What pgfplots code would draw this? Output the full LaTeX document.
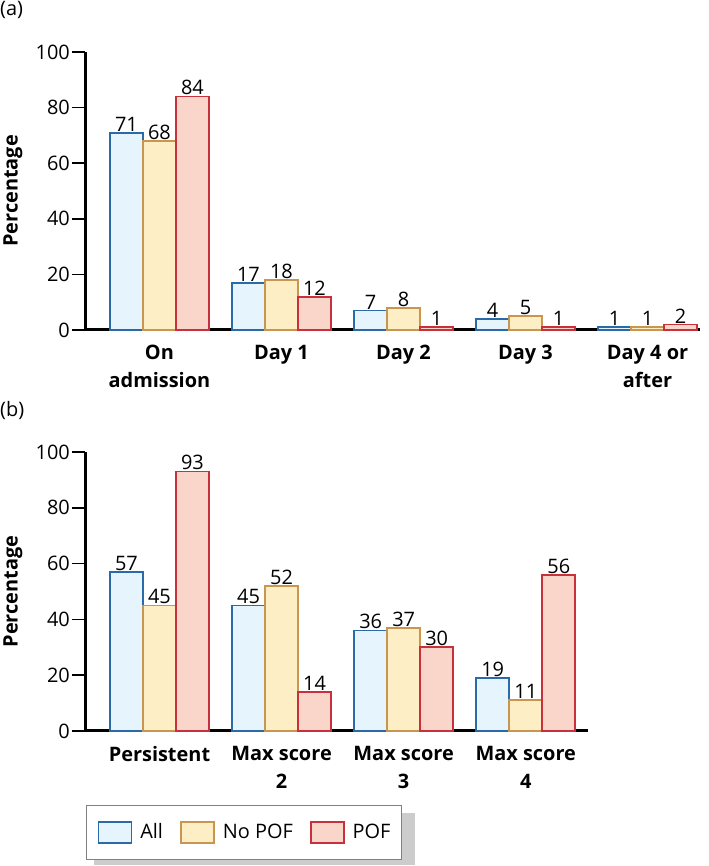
\documentclass[border=0pt]{standalone}
\usepackage{fontspec}
\setmainfont{Open Sans}
\usepackage{pgfplots}
\pgfplotsset{compat=1.18}
\definecolor{cAllD}{HTML}{2A6AA8}
\definecolor{cAllF}{HTML}{E6F4FD}
\definecolor{cNoD}{HTML}{C9964F}
\definecolor{cNoF}{HTML}{FDEEC6}
\definecolor{cPD}{HTML}{C8303C}
\definecolor{cPF}{HTML}{FAD5CA}
\newcommand{\fs}{\fontsize{20}{28}\selectfont}
\pgfplotsset{
  mybars/.style={
    scale only axis,
    axis lines*=left,
    axis line style={line width=3bp, black},
    ymin=0, ymax=100,
    ytick={0,20,40,60,80,100},
    tick align=outside,
    major tick length=13bp,
    ytick style={line width=1.5bp, black},
    xtick style={draw=none},
    xtick=data,
    ybar=0pt,
    bar width=33bp,
    clip=false,
    /pgf/number format/assume math mode=true,
    yticklabel style={font=\fs, inner sep=2bp},
    xticklabel style={font=\fs\bfseries, align=center, inner sep=2bp},
    every axis y label/.style={at={(axis description cs:0,0.5)}, xshift=-72bp, rotate=90, anchor=center, font=\fs\bfseries},
    ylabel={Percentage},
    nodes near coords,
    every node near coord/.append style={font=\fs, black, inner sep=0pt, anchor=south, yshift=0.5bp},
    legend image code/.code={\draw[##1] (0bp,-10.5bp) rectangle (33bp,10.5bp);},
  },
  sAll/.style={draw=cAllD, fill=cAllF, line width=1.8bp},
  sNo/.style={draw=cNoD, fill=cNoF, line width=1.8bp},
  sP/.style={draw=cPD, fill=cPF, line width=1.8bp},
}
\begin{document}
\begin{tikzpicture}[x=1bp,y=1bp]
\useasboundingbox (0,0) rectangle (709,866);
\node[anchor=base west, inner sep=0pt, font=\fs] at (0,850) {(a)};
\node[anchor=base west, inner sep=0pt, font=\fs] at (0,449) {(b)};
\fill[gray!40] (94,1) rectangle (415,53);
\begin{axis}[mybars,
  at={(85bp,536bp)}, anchor=south west,
  width=615bp, height=278bp,
  xmin=-0.61, xmax=4.43,
  xticklabels={On\\admission, Day 1, Day 2, Day 3, Day 4 or\\after},
]
\addplot[sAll] coordinates {(0,71) (1,17) (2,7) (3,4) (4,1)};
\addplot[sNo] coordinates {(0,68) (1,18) (2,8) (3,5) (4,1)};
\addplot[sP] coordinates {(0,84) (1,12) (2,1) (3,1) (4,2)};
\end{axis}
\begin{axis}[mybars,
  at={(85bp,135bp)}, anchor=south west,
  width=503bp, height=279bp,
  xmin=-0.61, xmax=3.51,
  xticklabels={Persistent, Max score\\2, Max score\\3, Max score\\4},
  legend columns=3,
  legend cell align=left,
  legend style={at={(axis description cs:0.002,-0.265)}, anchor=north west,
    draw=gray, line width=1bp, fill=white, font=\fs,
    inner xsep=11bp, inner ysep=15.5bp,
    nodes={inner xsep=0pt, inner ysep=0pt, text height=17bp, text depth=4bp},
    /tikz/every odd column/.style={column sep=8bp},
    /tikz/every even column/.style={column sep=17bp}},
]
\addplot[sAll] coordinates {(0,57) (1,45) (2,36) (3,19)};
\addplot[sNo] coordinates {(0,45) (1,52) (2,37) (3,11)};
\addplot[sP] coordinates {(0,93) (1,14) (2,30) (3,56)};
\legend{All, No POF, POF}
\end{axis}
\end{tikzpicture}
\end{document}
